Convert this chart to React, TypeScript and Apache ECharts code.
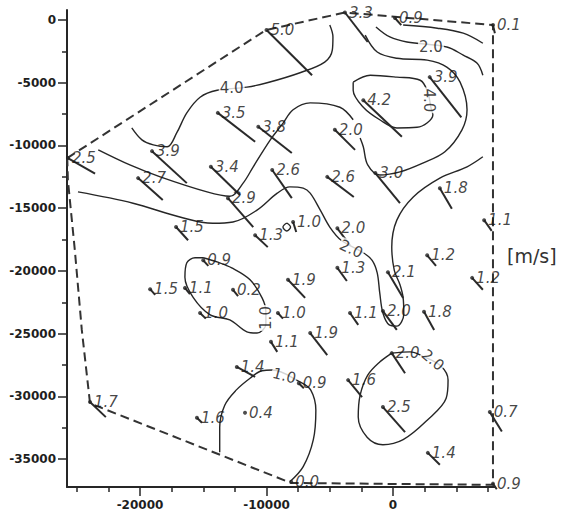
import React, { useEffect, useRef } from "react";
import * as echarts from "echarts";

// ---- axis ticks ----
const xMajorTicks = [-20000, -10000, 0];
const xMinorTicks = [-25000, -22500, -17500, -15000, -12500, -7500, -5000, -2500, 2500, 5000, 7500];
const yMajorTicks = [0, -5000, -10000, -15000, -20000, -25000, -30000, -35000];
const yMinorTicks = [-2500, -7500, -12500, -17500, -22500, -27500, -32500];

// ---- stations: position, wind speed [m/s], wind vector tip ----
const stationX = [-10000, -3800, 150, 7900, 2900, -2350, -4600, -13850, -10650, -19050, -25700, -20150, -14400, -13050, -9550, -5200, -1400, 3700, 7200, -17150, -10900, -7900, -4400, 2700, 6250, -400, -4400, -8300, -15000, -12650, -19200, -16450, -15250, -9100, -3400, -800, 2450, -6550, -9650, -100, -3550, -800, -7450, -12350, -15500, -11700, 2750, 7650, 7900, -8050, -23950];
const stationY = [-800, 600, 160, -400, -4550, -6400, -8750, -7400, -8500, -10450, -11000, -12600, -11700, -14200, -11950, -12500, -12200, -13400, -15950, -16500, -17150, -16100, -16600, -18750, -20550, -20100, -19750, -20700, -19150, -21500, -21450, -21350, -23350, -23350, -23350, -23200, -23250, -24950, -25650, -26550, -28700, -30850, -28950, -27650, -31700, -31300, -34500, -31250, -36950, -36800, -30450];
const stationSpeed = [5.0, 3.3, 0.9, 0.1, 3.9, 4.2, 2.0, 3.5, 3.8, 3.9, 2.5, 2.7, 3.4, 2.9, 2.6, 2.6, 3.0, 1.8, 1.1, 1.5, 1.3, 1.0, 2.0, 1.2, 1.2, 2.1, 1.3, 1.9, 0.9, 0.2, 1.5, 1.1, 1.0, 1.0, 1.1, 2.0, 1.8, 1.9, 1.1, 2.0, 1.6, 2.5, 0.9, 1.4, 1.6, 0.4, 1.4, 0.7, 0.9, 0.0, 1.7];
const vectorTipX = [-6400, -2000, 650, 8050, 5400, 700, -3000, -10900, -8000, -16300, -23550, -18200, -12100, -11050, -8000, -3100, 550, 4650, 7800, -16200, -9900, -7650, -3400, 3400, 7100, 800, -3650, -6950, -14600, -12250, -18800, -16050, -14800, -8700, -2750, 300, 3250, -5200, -9150, 950, -2450, 950, -7050, -10900, -15100, -11700, 3700, 8600, 8200, -8050, -22700];
const vectorTipY = [-4400, -1750, -400, -1050, -7750, -9300, -10350, -9700, -10600, -13000, -12250, -14350, -13950, -16500, -14200, -14100, -14600, -15050, -16800, -17550, -18100, -16900, -17950, -19600, -21500, -22150, -20800, -22150, -19600, -22000, -21900, -21850, -23800, -23800, -24300, -24700, -24700, -26700, -26450, -28150, -30050, -32850, -29350, -28450, -32100, -31300, -35450, -32800, -37400, -36800, -31650];

// ---- survey boundary (dashed) ----
const boundary = [
  [-25750, -11000], [-10050, -800], [-3800, 600], [7900, -400], [7900, -37050],
  [-8050, -36900], [-23950, -30550], [-24600, -24700], [-25150, -18350], [-25700, -12750], [-25750, -11000],
];

// ---- isotach contour lines ----
const contourA = [[-20650, -8600], [-19850, -9550], [-18950, -9950], [-17850, -10100], [-17100, -9000], [-16300, -7400], [-15250, -6150], [-13900, -5600], [-11550, -5350], [-9950, -5000], [-7350, -4200], [-5400, -3350], [-4800, -2400], [-4750, -1350], [-5000, -400]];
const contourB1 = [[800, -400], [3500, -650], [5550, -1050], [7100, -1850]];
const contourB2 = [[-1350, -550], [-250, -1350], [1100, -1750], [4250, -2150], [5550, -2800], [6650, -3450], [7100, -4400]];
const contourC = [[-2200, -1200], [-1250, -2550], [300, -3050], [2700, -3200], [4250, -3750], [5300, -4950], [5850, -7150], [5450, -8750], [4100, -10500], [2350, -11400], [550, -12100], [-1050, -12350], [-2000, -11550], [-2350, -10100], [-2600, -9400]];
const contourD = [[-3150, -4950], [-1800, -4400], [300, -4550], [2150, -4800], [2750, -5750], [3000, -7000], [3150, -7550], [1900, -8550], [300, -8600], [-1050, -7950], [-2350, -6950], [-3150, -5600], [-3150, -4950]];
const contourE = [[-23300, -10350], [-20800, -11550], [-18400, -12500], [-14700, -13700], [-12900, -14050], [-11850, -13000], [-11050, -11700], [-9700, -9550], [-8750, -8300], [-7900, -7150], [-6550, -6600], [-4200, -6950], [-3150, -7950]];
const contourF = [[-24900, -13700], [-20550, -14600], [-16850, -15700], [-14250, -16200], [-12650, -16100], [-10750, -15150], [-9150, -13800], [-8150, -13300], [-7100, -13400], [-6550, -13800], [-5750, -15150], [-5000, -16500], [-4100, -17550], [-2350, -18550], [-1650, -19150], [-1250, -20150], [-1050, -21750], [-800, -23350], [-300, -24300], [300, -24400], [850, -23450], [800, -22150], [550, -21100], [100, -19950], [-100, -18100], [300, -15950], [1600, -14100], [3700, -12600], [5850, -11700], [7100, -10900]];
const contourG = [[-15000, -18950], [-13850, -19300], [-12750, -19750], [-11300, -20700], [-10350, -22150], [-10050, -23250], [-10050, -24250], [-10750, -24950], [-11550, -24850], [-12900, -23900], [-14450, -23500], [-15800, -22100], [-16450, -20500], [-16300, -19350], [-15650, -18950], [-15000, -18950]];
const contourH = [[-13700, -34450], [-13700, -32450], [-13300, -30700], [-12400, -29500], [-11300, -28550], [-10350, -27950], [-9550, -27900], [-7350, -28850], [-6500, -29500], [-6100, -31100], [-6300, -33450], [-7100, -35600], [-8150, -36800]];
const contourI = [[-100, -26550], [1350, -26450], [2350, -26800], [3800, -27600], [4350, -28700], [4200, -30150], [2700, -31900], [800, -33450], [-800, -33850], [-2050, -33250], [-2750, -31650], [-2600, -29900], [-2000, -28300], [-1050, -27250], [-100, -26550]];
const contourJ = [[-8400, -16180], [-8100, -16500], [-8400, -16820], [-8700, -16500], [-8400, -16180]];
const contours = [contourA, contourB1, contourB2, contourC, contourD, contourE, contourF, contourG, contourH, contourI, contourJ];

// ---- contour labels ----
const contourLabelX = [-12750, 3000, 2850, -3300, -10050, -8600, 3150];
const contourLabelY = [-5400, -2150, -6400, -18250, -23750, -28350, -27100];
const contourLabelText = ["4.0", "2.0", "4.0", "2.0", "1.0", "1.0", "2.0"];
const contourLabelRotate = [0, 0, -90, -25, 90, -15, -40];

const INK = "#262626";
const FONT = "DejaVu Sans";

export default function App() {
  const ref = useRef<HTMLDivElement>(null);
  useEffect(() => {
    if (!ref.current) return;
    const chart = echarts.init(ref.current, undefined, { renderer: "svg" });

    const xMin = -25770, xMax = 8060, yMin = -37220, yMax = 800;
    const axisCommon = { type: "value", splitLine: { show: false } } as any;
    const plain = (v: number) => String(v);

    const stationData = stationX.map((x, i) => [x, stationY[i]]);
    const vectorData = stationX.map((x, i) => [x, stationY[i], vectorTipX[i], vectorTipY[i]]);

    const option: any = {
      animation: false,
      backgroundColor: "#ffffff",
      grid: { left: 67, top: 10, width: 428, height: 477 },
      xAxis: [
        {
          ...axisCommon, min: xMin, max: xMax, position: "bottom",
          axisLine: { show: true, onZero: false, lineStyle: { color: INK, width: 2 } },
          axisTick: { show: true, customValues: xMajorTicks, length: 9, inside: false, lineStyle: { color: INK, width: 1.5 } },
          axisLabel: { show: true, customValues: xMajorTicks, formatter: plain, margin: 12, color: "#1e1e1e", fontSize: 12, fontWeight: "bold", fontFamily: FONT },
        },
        {
          ...axisCommon, min: xMin, max: xMax, position: "bottom",
          axisLine: { show: false, onZero: false },
          axisTick: { show: true, customValues: xMinorTicks, length: 5, inside: false, lineStyle: { color: INK, width: 1.5 } },
          axisLabel: { show: false },
        },
      ],
      yAxis: [
        {
          ...axisCommon, min: yMin, max: yMax, position: "left",
          axisLine: { show: true, onZero: false, lineStyle: { color: INK, width: 2 } },
          axisTick: { show: true, customValues: yMajorTicks, length: 9, inside: false, lineStyle: { color: INK, width: 1.5 } },
          axisLabel: { show: true, customValues: yMajorTicks, formatter: plain, margin: 11, color: "#1e1e1e", fontSize: 12, fontWeight: "bold", fontFamily: FONT },
        },
        {
          ...axisCommon, min: yMin, max: yMax, position: "left",
          axisLine: { show: false, onZero: false },
          axisTick: { show: true, customValues: yMinorTicks, length: 5, inside: false, lineStyle: { color: INK, width: 1.5 } },
          axisLabel: { show: false },
        },
      ],
      graphic: [
        {
          type: "text", left: 507, top: 246,
          style: { text: "[m/s]", fontSize: 19, fontFamily: FONT, fill: "#333" },
        },
      ],
      series: [
        {
          type: "line", data: boundary, xAxisIndex: 0, yAxisIndex: 0, symbol: "none", clip: false,
          lineStyle: { color: "#333", width: 2, type: [9, 5] }, z: 2,
        },
        ...contours.map((c) => ({
          type: "line", data: c, xAxisIndex: 0, yAxisIndex: 0, symbol: "none", smooth: 0.35, clip: false,
          lineStyle: { color: INK, width: 1.4 }, z: 2,
        })),
        {
          type: "custom", xAxisIndex: 0, yAxisIndex: 0, data: vectorData, clip: false, z: 3,
          encode: { x: [0, 2], y: [1, 3] },
          renderItem: (params: any, api: any) => {
            const p0 = api.coord([api.value(0), api.value(1)]);
            const p1 = api.coord([api.value(2), api.value(3)]);
            return {
              type: "line",
              shape: { x1: p0[0], y1: p0[1], x2: p1[0], y2: p1[1] },
              style: { stroke: "#2a2a2a", lineWidth: 2 },
            };
          },
        },
        {
          type: "scatter", xAxisIndex: 0, yAxisIndex: 0, data: contourLabelX.map((x, i) => [x, contourLabelY[i]]),
          symbolSize: 0, clip: false, z: 4,
          label: {
            show: true, position: "inside",
            formatter: (p: any) => contourLabelText[p.dataIndex],
            color: "#111", fontSize: 15, fontFamily: FONT, backgroundColor: "#fff", padding: [0, 1],
          },
          labelLayout: (p: any) => ({ rotate: contourLabelRotate[p.dataIndex] }),
        },
        {
          type: "scatter", xAxisIndex: 0, yAxisIndex: 0, data: stationData, symbol: "circle", symbolSize: 4,
          itemStyle: { color: "#222" }, clip: false, z: 5,
          label: {
            show: true, position: "right", distance: 2,
            formatter: (p: any) => stationSpeed[p.dataIndex].toFixed(1),
            color: "#151515", fontSize: 15, fontStyle: "italic", fontFamily: FONT,
          },
        },
      ],
    };
    chart.setOption(option);
    return () => chart.dispose();
  }, []);
  return (
    <div
      ref={ref}
      style={{ position: "absolute", left: 0, top: 0, width: 565, height: 517, background: "#fff" }}
    />
  );
}
